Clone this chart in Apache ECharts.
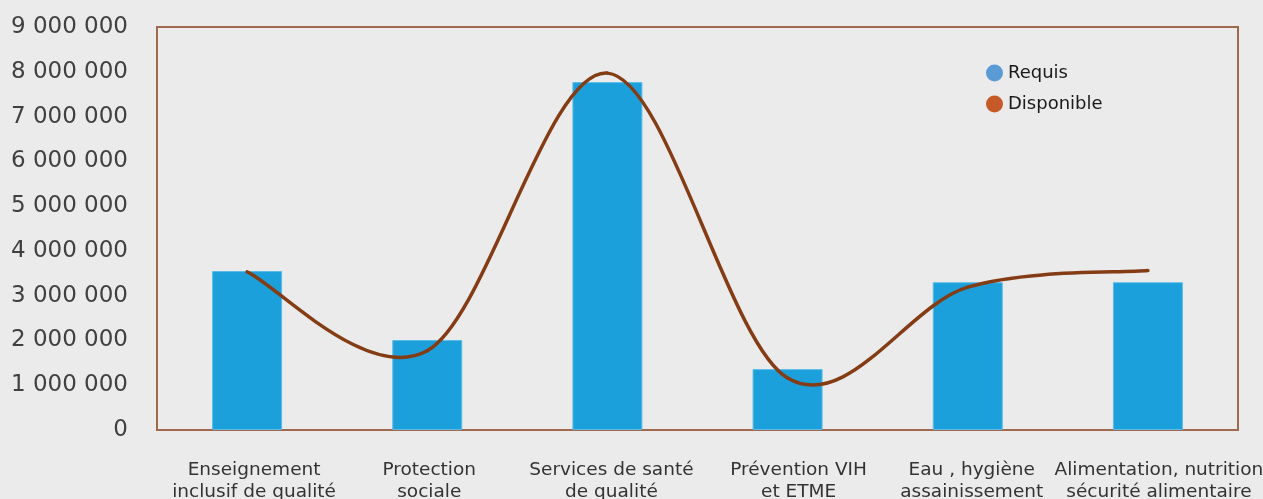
<!DOCTYPE html>
<html>
<head>
<meta charset="utf-8">
<script src="https://cdn.jsdelivr.net/npm/echarts@6/dist/echarts.min.js"></script>
<style>
html,body{margin:0;padding:0;background:#ebebeb;}
#c{width:1263px;height:499px;}
</style>
</head>
<body>
<div id="c"></div>
<script>
const categories = [
  "Enseignement\ninclusif de qualité",
  "Protection\nsociale",
  "Services de santé\nde qualité",
  "Prévention VIH\net ETME",
  "Eau , hygiène\nassainissement",
  "Alimentation, nutrition\nsécurité alimentaire"
];
const requis = [3550000, 2010000, 7770000, 1360000, 3300000, 3300000];
const disponible = [3530000, 1770000, 7970000, 1160000, 3190000, 3560000];
const yTicks = [0, 1000000, 2000000, 3000000, 4000000, 5000000, 6000000, 7000000, 8000000, 9000000];

const labelShift = [14, 4, 8, 22, 8, 22];
const lineColor = '#843c15';
const chart = echarts.init(document.getElementById('c'), null, {renderer: 'canvas'});
const fontFam = 'DejaVu Sans';

function renderSmooth(params, api) {
  if (params.dataIndexInside !== 0) return null;
  const n = params.dataInsideLength;
  const pts = [];
  for (let i = 0; i < n; i++) pts.push(api.coord([api.value(0, i), api.value(1, i)]));
  const children = [];
  for (let i = 0; i < n - 1; i++) {
    const p0 = pts[Math.max(i - 1, 0)], p1 = pts[i], p2 = pts[i + 1], p3 = pts[Math.min(i + 2, n - 1)];
    children.push({
      type: 'bezierCurve',
      shape: {
        x1: p1[0], y1: p1[1],
        cpx1: p1[0] + (p2[0] - p0[0]) / 6, cpy1: p1[1] + (p2[1] - p0[1]) / 6,
        cpx2: p2[0] - (p3[0] - p1[0]) / 6, cpy2: p2[1] - (p3[1] - p1[1]) / 6,
        x2: p2[0], y2: p2[1]
      },
      style: {fill: null, stroke: lineColor, lineWidth: 3.5, lineCap: 'round'}
    });
  }
  return {type: 'group', children: children};
}

chart.setOption({
  backgroundColor: '#ebebeb',
  animation: false,
  grid: {left: 157, top: 27, right: 25, bottom: 69, outerBoundsMode: 'none', containLabel: false, show: true, borderColor: '#a0684c', borderWidth: 2, backgroundColor: 'transparent'},
  legend: {
    orient: 'vertical',
    left: 981, top: 59,
    icon: 'circle',
    itemWidth: 17, itemHeight: 17, itemGap: 13,
    textStyle: {fontFamily: fontFam, fontSize: 18, color: '#1a1a1a'},
    data: [
      {name: 'Requis', icon: 'circle', itemStyle: {color: '#5b9bd5', borderWidth: 0}},
      {name: 'Disponible', icon: 'circle', itemStyle: {color: '#c55a28', borderWidth: 0}}
    ]
  },
  xAxis: {
    type: 'category',
    data: categories.map((c, i) => ({value: c, textStyle: {padding: [0, 0, 0, labelShift[i]]}})),
    axisLine: {show: true, lineStyle: {color: '#a0684c', width: 2}},
    axisTick: {show: false},
    axisLabel: {interval: 0, margin: 29, fontFamily: fontFam, fontSize: 18.5, color: '#333', lineHeight: 22}
  },
  yAxis: {
    type: 'value',
    min: yTicks[0], max: yTicks[yTicks.length - 1], interval: 1000000,
    splitLine: {show: false},
    axisLine: {show: false},
    axisTick: {show: false},
    axisLabel: {
      margin: 29, fontFamily: fontFam, fontSize: 23, color: '#404040', padding: [5, 0, 0, 0],
      formatter: v => String(v).replace(/\B(?=(\d{3})+(?!\d))/g, ' ')
    }
  },
  series: [
    {
      name: 'Requis', type: 'bar', data: requis, barWidth: 70,
      itemStyle: {color: '#1ca0dc', borderColor: '#5cbbe8', borderWidth: 1}
    },
    {
      name: 'Disponible', type: 'custom', renderItem: renderSmooth,
      encode: {x: 0, y: 1},
      data: disponible.map((v, i) => [i, v]),
      itemStyle: {color: '#c55a28'},
      z: 3
    }
  ]
});
</script>
</body>
</html>
